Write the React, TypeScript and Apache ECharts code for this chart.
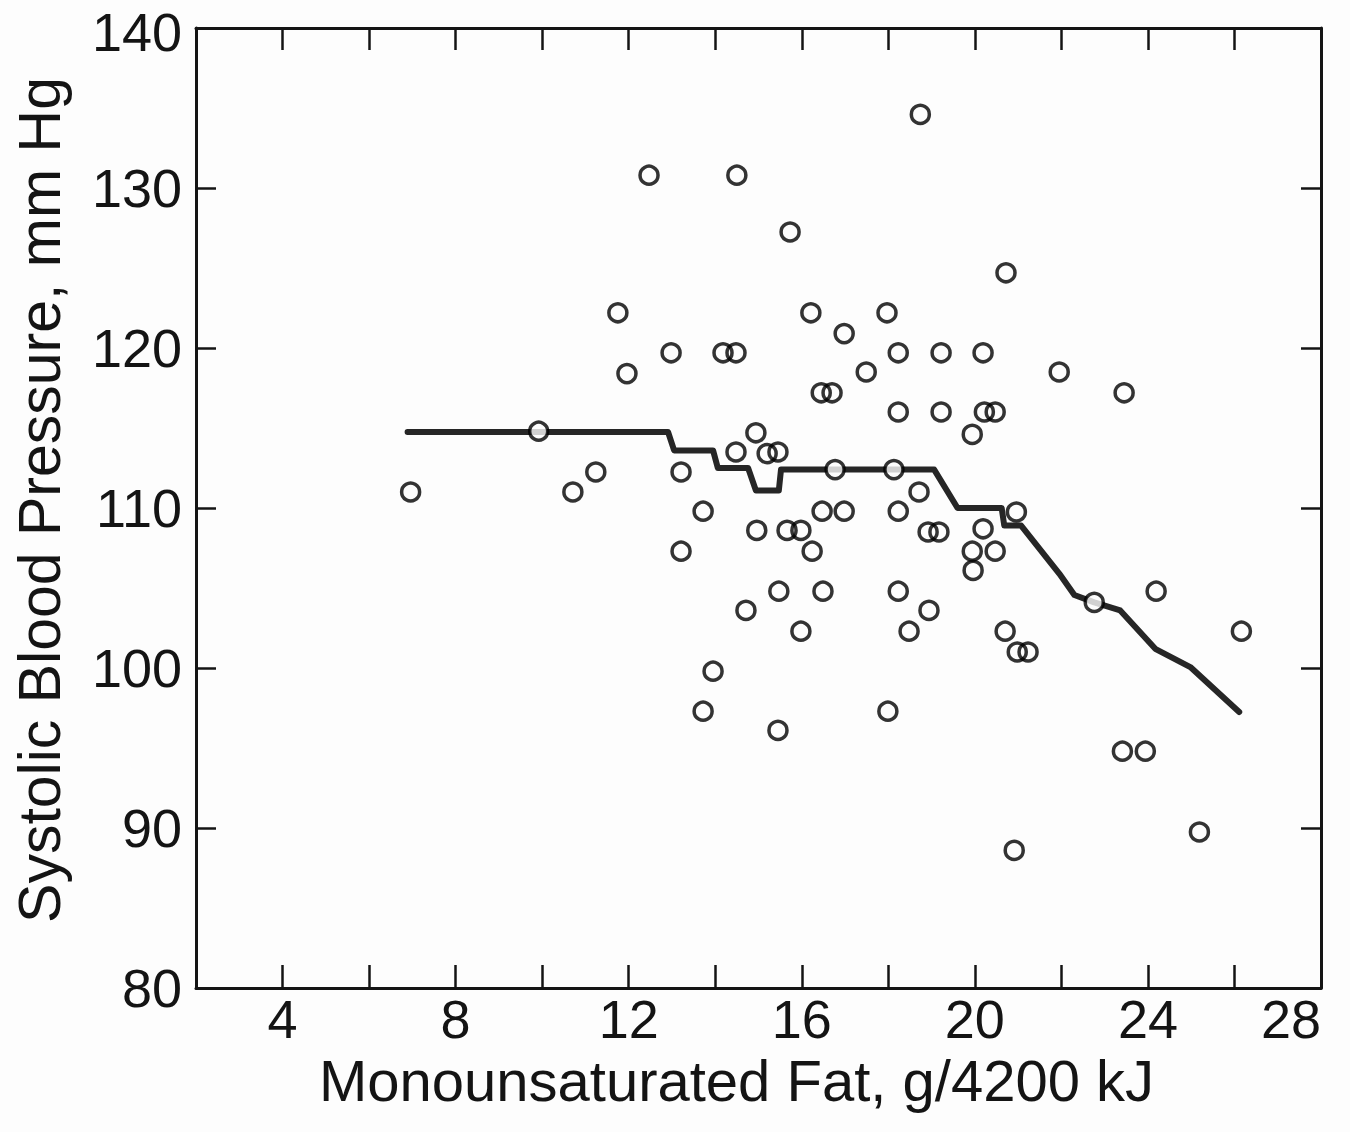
import React, { useEffect, useRef } from "react";
import * as echarts from "echarts";

// Scatter points: monounsaturated fat (g/4200 kJ) vs systolic BP (mm Hg)
const fatValues: number[] = [
  6.96, 9.92, 10.71, 11.24, 11.75, 11.96, 12.47, 12.98, 13.21, 13.21,
  13.72, 13.72, 13.95, 14.18, 14.48, 14.48, 14.5, 14.71, 14.94, 14.96,
  15.2, 15.45, 15.47, 15.45, 15.73, 15.66, 15.98, 15.98, 16.21, 16.24,
  16.45, 16.47, 16.49, 16.7, 16.77, 16.98, 16.98, 17.49, 17.97, 17.99,
  18.13, 18.23, 18.23, 18.23, 18.23, 18.48, 18.74, 18.71, 18.92, 18.94,
  19.17, 19.22, 19.22, 19.94, 19.94, 19.96, 20.19, 20.19, 20.22, 20.47,
  20.47, 20.72, 20.7, 20.96, 20.98, 21.23, 20.91, 21.95, 22.76, 23.45,
  23.41, 23.94, 24.19, 25.19, 26.16,
];
const bpValues: number[] = [
  111.0, 114.8, 111.0, 112.25, 122.2, 118.4, 130.8, 119.7, 112.25, 107.3,
  109.8, 97.3, 99.8, 119.7, 119.7, 113.5, 130.8, 103.6, 114.7, 108.6,
  113.4, 113.5, 104.8, 96.1, 127.25, 108.6, 108.6, 102.3, 122.2, 107.3,
  117.2, 109.8, 104.8, 117.2, 112.4, 120.9, 109.8, 118.5, 122.2, 97.3,
  112.4, 119.7, 116.0, 109.8, 104.8, 102.3, 134.6, 111.0, 108.5, 103.6,
  108.5, 119.7, 116.0, 114.6, 107.3, 106.1, 108.7, 119.7, 116.0, 116.0,
  107.3, 124.7, 102.3, 109.75, 101.0, 101.0, 88.6, 118.5, 104.1, 117.2,
  94.8, 94.8, 104.8, 89.75, 102.3,
];

// Fitted (smoothed) curve
const curveX: number[] = [
  6.89, 12.91, 13.05, 13.95, 14.06, 14.76, 14.94, 15.47, 15.52, 19.06,
  19.6, 20.62, 20.68, 21.07, 21.95, 22.3, 22.76, 23.36, 24.17, 24.98, 26.11,
];
const curveY: number[] = [
  114.75, 114.75, 113.6, 113.6, 112.5, 112.5, 111.1, 111.1, 112.4, 112.4,
  110.0, 110.0, 108.9, 108.9, 105.9, 104.56, 104.1, 103.6, 101.2, 100.06, 97.25,
];

const xTickLabels: number[] = [4, 8, 12, 16, 20, 24, 28];
const yTickLabels: number[] = [80, 90, 100, 110, 120, 130, 140];

const FONT = '"Liberation Sans", Arial, Helvetica, sans-serif';
const INK = "#141414";

export default function App() {
  const ref = useRef<HTMLDivElement>(null);

  useEffect(() => {
    document.body.style.margin = "0";
    if (!ref.current) return;
    const chart = echarts.init(ref.current, undefined, { renderer: "svg" });

    const points = fatValues.map((x, i) => [x, bpValues[i]]);
    const curve = curveX.map((x, i) => [x, curveY[i]]);

    const axisLine = { show: true, lineStyle: { color: INK, width: 3 } };
    const tick = (len: number) => ({
      show: true,
      inside: true,
      length: len,
      lineStyle: { color: INK, width: 2.5 },
    });
    const yMax = yTickLabels[yTickLabels.length - 1];

    chart.setOption({
      animation: false,
      backgroundColor: "#fdfdfd",
      grid: {
        left: 196,
        right: 29,
        top: 28,
        bottom: 144,
        containLabel: false,
        outerBoundsMode: "none",
      },
      xAxis: [
        {
          type: "value",
          position: "bottom",
          min: 2,
          max: 28,
          interval: 2,
          axisLine,
          axisTick: tick(23),
          splitLine: { show: false },
          axisLabel: {
            margin: 8,
            fontSize: 54,
            lineHeight: 46,
            fontFamily: FONT,
            color: INK,
            alignMaxLabel: "right",
            formatter: (v: number) => (xTickLabels.includes(v) ? String(v) : ""),
          },
          name: "Monounsaturated Fat, g/4200 kJ",
          nameLocation: "middle",
          nameGap: 60,
          nameTextStyle: {
            fontSize: 58,
            lineHeight: 60,
            fontFamily: FONT,
            color: INK,
            padding: [0, 44, 0, 0],
          },
        },
        {
          type: "value",
          position: "top",
          min: 2,
          max: 28,
          interval: 2,
          axisLine,
          axisTick: tick(22),
          axisLabel: { show: false },
          splitLine: { show: false },
        },
      ],
      yAxis: [
        {
          type: "value",
          position: "left",
          min: 80,
          max: 140,
          interval: 10,
          axisLine,
          axisTick: tick(20),
          splitLine: { show: false },
          axisLabel: {
            margin: 14,
            fontSize: 54,
            lineHeight: 46,
            fontFamily: FONT,
            color: INK,
            formatter: (v: number) =>
              yTickLabels.includes(v) ? (v === yMax ? "{t|" + v + "}" : String(v)) : "",
            rich: {
              t: {
                fontSize: 54,
                lineHeight: 46,
                fontFamily: FONT,
                color: INK,
                padding: [8, 0, 0, 0],
              },
            },
          },
          name: "Systolic Blood Pressure, mm Hg",
          nameLocation: "middle",
          nameGap: 126,
          nameTextStyle: {
            fontSize: 59,
            lineHeight: 60,
            fontFamily: FONT,
            color: INK,
            padding: [0, 0, 0, 16],
          },
        },
        {
          type: "value",
          position: "right",
          min: 80,
          max: 140,
          interval: 10,
          axisLine,
          axisTick: tick(20),
          axisLabel: { show: false },
          splitLine: { show: false },
        },
      ],
      series: [
        {
          type: "line",
          data: curve,
          xAxisIndex: 0,
          yAxisIndex: 0,
          showSymbol: false,
          symbol: "none",
          lineStyle: { color: "#262626", width: 6, join: "round", cap: "round" },
          z: 2,
        },
        {
          type: "scatter",
          data: points,
          xAxisIndex: 0,
          yAxisIndex: 0,
          symbol: "circle",
          symbolSize: 17,
          itemStyle: { color: "#fdfdfd", borderWidth: 0 },
          z: 3,
        },
        {
          type: "scatter",
          data: points,
          xAxisIndex: 0,
          yAxisIndex: 0,
          symbol: "circle",
          symbolSize: 18,
          itemStyle: { color: "rgba(0,0,0,0)", borderColor: "#000", borderWidth: 3.5 },
          z: 4,
        },
      ],
    });

    return () => chart.dispose();
  }, []);

  return <div ref={ref} style={{ width: 1350, height: 1132 }} />;
}
